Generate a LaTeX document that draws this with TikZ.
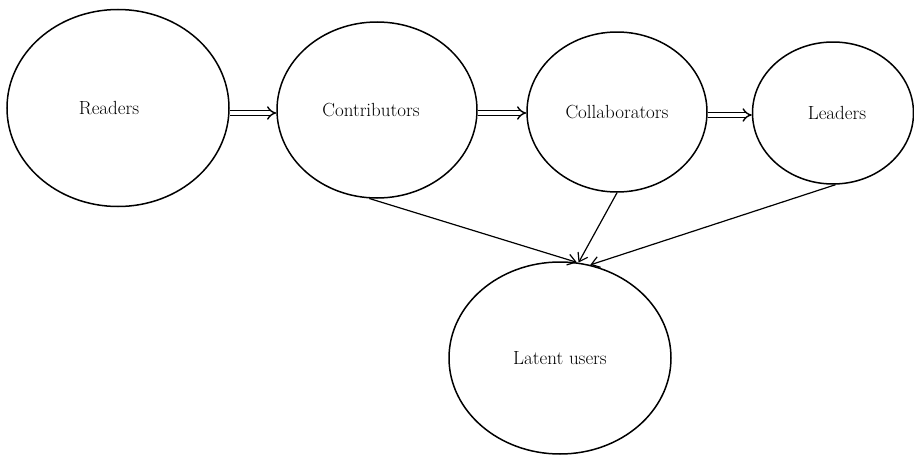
\documentclass[tikz,border=0pt]{standalone}
\usetikzlibrary{shapes.geometric,arrows.meta}
\begin{document}
\begin{tikzpicture}[x=1pt,y=-1pt,
  stage/.style={draw,ellipse,line width=1.5pt,inner sep=0pt,
    font=\fontsize{19}{22}\selectfont},
  flow/.style={double,double distance=3.2pt,line width=1.4pt,
    -{Implies[length=7pt]}},
  feed/.style={line width=1.2pt,-{Straight Barb[length=8pt,width=11pt,line width=1.2pt]}}]
  \useasboundingbox (0,0) rectangle (914,455);

  \node[stage,minimum width=222pt,minimum height=197pt] (readers) at (118,108) {Readers\hspace*{18pt}};
  \node[stage,minimum width=200pt,minimum height=176pt] (contrib) at (377,110) {Contributors\hspace*{12pt}};
  \node[stage,minimum width=180pt,minimum height=160pt] (collab) at (617,112) {\raisebox{-3pt}{Collaborators}};
  \node[stage,minimum width=161pt,minimum height=142pt] (leaders) at (833,113) {\hspace*{8pt}\raisebox{-4pt}{Leaders}};
  \node[stage,minimum width=222pt,minimum height=192pt] (latent) at (560,358) {Latent users};

  \draw[flow] ([yshift=-5pt]readers.east) -- ([yshift=-5pt]readers.east -| contrib.west);
  \draw[flow] ([yshift=-3pt]contrib.east) -- ([yshift=-3pt]contrib.east -| collab.west);
  \draw[flow] ([yshift=-3pt]collab.east) -- ([yshift=-3pt]collab.east -| leaders.west);

  \draw[feed] (contrib.265) -- (latent.80);
  \draw[feed] (collab.270) -- (latent.79);
  \draw[feed] (leaders.272) -- (latent.72);
\end{tikzpicture}
\end{document}
